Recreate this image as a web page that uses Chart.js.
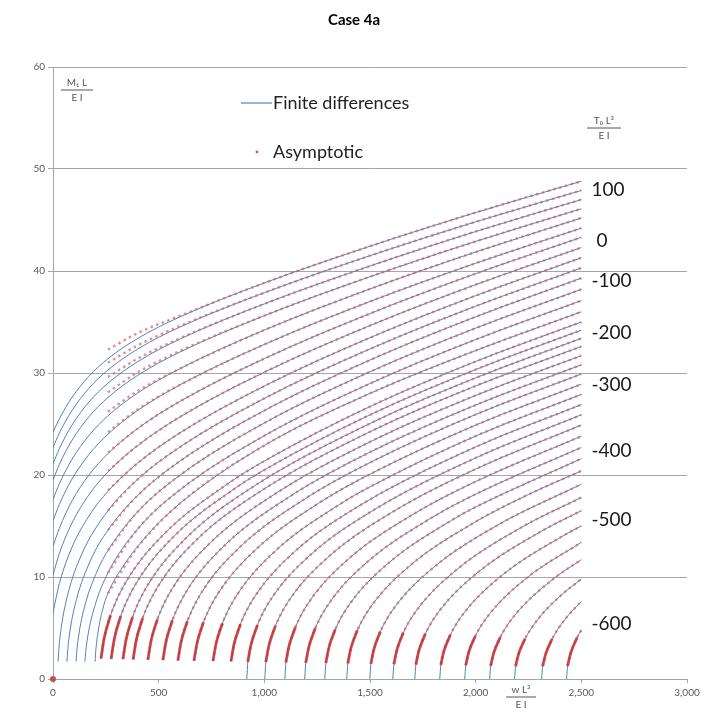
<!DOCTYPE html>
<html>
<head>
<meta charset="utf-8">
<title>Case 4a</title>
<script src="https://cdn.jsdelivr.net/npm/chart.js@4.4.1/dist/chart.umd.min.js"></script>
<style>
  html, body { margin: 0; padding: 0; background: #fff; }
  canvas { display: block; }
</style>
</head>
<body>
<canvas id="chart" width="708" height="721"></canvas>
<script>
// x ticks, y ticks
const xTicks = [0, 500, 1000, 1500, 2000, 2500, 3000];
const yTicks = [0, 10, 20, 30, 40, 50, 60];

// T0 L^2/EI labels on the right, and the y value they sit at
const tLabels = ['100', '0', '-100', '-200', '-300', '-400', '-500', '-600'];
const tLabelY = [48.0, 43.0, 39.0, 33.9, 28.8, 22.4, 15.6, 5.4];

// finite differences, upper curves (start on the M axis or near the origin)
const fdUpper = [
  [[0, 24.2], [30, 25.51], [90, 27.61], [170, 29.68], [260, 31.40], [400, 33.38], [600, 35.50], [1000, 38.83], [1500, 42.43], [2000, 45.73], [2500, 48.8]],
  [[0, 22.7], [30, 24.11], [90, 26.33], [170, 28.50], [260, 30.30], [400, 32.34], [600, 34.50], [1000, 37.87], [1500, 41.50], [2000, 44.82], [2500, 47.9]],
  [[0, 21.1], [30, 22.58], [90, 24.90], [170, 27.15], [260, 29.00], [400, 31.10], [600, 33.32], [1000, 36.78], [1500, 40.49], [2000, 43.87], [2500, 47.0]],
  [[0, 19.5], [30, 21.03], [90, 23.41], [170, 25.71], [260, 27.60], [400, 29.76], [600, 32.05], [1000, 35.62], [1500, 39.44], [2000, 42.90], [2500, 46.1]],
  [[0, 17.6], [30, 19.14], [90, 21.54], [170, 23.87], [260, 25.80], [400, 28.03], [600, 30.42], [1000, 34.21], [1500, 38.24], [2000, 41.86], [2500, 45.2]],
  [[0, 15.5], [30, 17.12], [90, 19.61], [170, 22.01], [260, 24.00], [400, 26.32], [600, 28.83], [1000, 32.80], [1500, 37.01], [2000, 40.76], [2500, 44.2]],
  [[0, 13.0], [30, 14.78], [90, 17.46], [170, 20.00], [260, 22.10], [400, 24.55], [600, 27.21], [1000, 31.41], [1500, 35.83], [2000, 39.74], [2500, 43.3]],
  [[0, 10.2], [30, 12.30], [90, 15.30], [170, 18.06], [260, 20.30], [400, 22.88], [600, 25.68], [1000, 30.08], [1500, 34.65], [2000, 38.66], [2500, 42.3]],
  [[0, 6.5], [30, 9.35], [90, 12.92], [170, 15.98], [260, 18.40], [400, 21.16], [600, 24.12], [1000, 28.72], [1500, 33.46], [2000, 37.58], [2500, 41.3]],
  [[24, 1.7], [28, 3.00], [39, 5.04], [69, 8.22], [134, 12.15], [260, 16.50], [400, 19.57], [600, 22.73], [1000, 27.51], [1500, 32.36], [2000, 36.55], [2500, 40.3]],
  [[66, 1.7], [70, 2.89], [81, 4.80], [111, 7.80], [176, 11.56], [260, 14.60], [400, 17.98], [600, 21.35], [1000, 26.32], [1500, 31.27], [2000, 35.51], [2500, 39.3]],
  [[109, 1.7], [113, 2.79], [124, 4.59], [154, 7.44], [209, 10.58], [260, 12.60], [400, 16.38], [600, 19.97], [1000, 25.10], [1500, 30.12], [2000, 34.40], [2500, 38.2]],
  [[151, 1.7], [155, 2.69], [166, 4.36], [196, 7.03], [260, 10.40], [400, 14.69], [600, 18.53], [1000, 23.85], [1500, 28.97], [2000, 33.28], [2500, 37.1]],
  [[199, 1.7], [203, 2.9], [214, 4.7], [234, 6.75], [260, 8.40], [330, 11.0], [450, 14.2], [600, 17.2], [1000, 22.9], [1500, 28.0], [2000, 32.2], [2500, 36.0]]
];

// asymptotic, upper curves: the marks start at x = 260
const asymX = [260, 400, 600, 1000, 1500, 2000, 2500];
const asymUpperY = [
  [32.3, 33.9, 35.6, 38.83, 42.43, 45.73, 48.8],
  [31.0, 32.7, 34.6, 37.87, 41.50, 44.82, 47.9],
  [29.6, 31.4, 33.4, 36.78, 40.49, 43.87, 47.0],
  [28.1, 30.05, 32.15, 35.62, 39.44, 42.90, 46.1],
  [26.2, 28.23, 30.42, 34.21, 38.24, 41.86, 45.2],
  [24.2, 26.42, 28.83, 32.80, 37.01, 40.76, 44.2],
  [22.2, 24.55, 27.21, 31.41, 35.83, 39.74, 43.3],
  [20.4, 22.88, 25.68, 30.08, 34.65, 38.66, 42.3],
  [18.5, 21.16, 24.12, 28.72, 33.46, 37.58, 41.3],
  [16.5, 19.57, 22.73, 27.51, 32.36, 36.55, 40.3],
  [14.6, 17.98, 21.35, 26.32, 31.27, 35.51, 39.3],
  [12.6, 16.38, 19.97, 25.10, 30.12, 34.40, 38.2],
  [10.4, 14.69, 18.53, 23.85, 28.97, 33.28, 37.1],
  [8.4, 12.9, 17.2, 22.9, 28.0, 32.2, 36.0]
];

// lower curves that rise from the w axis (both methods follow them)
const lowerCurves = [
  [[227, 2.01], [242, 3.99], [272, 6.23], [342, 9.40], [522, 14.14], [822, 19.07], [1000, 21.37], [1500, 26.71], [2000, 31.13], [2500, 35.0]],
  [[275, 1.98], [290, 3.93], [320, 6.14], [390, 9.26], [570, 13.94], [870, 18.81], [1000, 20.50], [1500, 25.90], [2000, 30.34], [2500, 34.2]],
  [[331, 1.95], [346, 3.87], [376, 6.05], [446, 9.13], [626, 13.75], [926, 18.57], [1500, 25.05], [2000, 29.52], [2500, 33.4]],
  [[379, 1.92], [394, 3.81], [424, 5.95], [494, 8.98], [674, 13.54], [974, 18.30], [1500, 24.24], [2000, 28.73], [2500, 32.6]],
  [[449, 1.89], [464, 3.75], [494, 5.85], [564, 8.85], [744, 13.35], [1044, 18.06], [1500, 23.25], [2000, 27.80], [2500, 31.7]],
  [[520, 1.85], [535, 3.69], [565, 5.76], [635, 8.71], [815, 13.16], [1115, 17.82], [1500, 22.24], [2000, 26.86], [2500, 30.8]],
  [[591, 1.82], [606, 3.63], [636, 5.67], [706, 8.58], [886, 12.97], [1186, 17.58], [1500, 21.22], [2000, 25.93], [2500, 29.9]],
  [[667, 1.79], [682, 3.56], [712, 5.57], [782, 8.42], [962, 12.74], [1262, 17.30], [1500, 20.08], [2000, 24.89], [2500, 28.9]],
  [[757, 1.76], [772, 3.50], [802, 5.47], [872, 8.29], [1052, 12.56], [1352, 17.07], [1500, 18.84], [2000, 23.82], [2500, 27.9]],
  [[842, 1.73], [857, 3.44], [887, 5.38], [957, 8.15], [1137, 12.37], [1437, 16.83], [2000, 22.75], [2500, 26.9]],
  [[917, 0], [922, 1.69], [937, 3.37], [967, 5.27], [1037, 8.00], [1217, 12.15], [1517, 16.56], [2000, 21.68], [2500, 25.9]],
  [[1002, 0], [1007, 1.66], [1022, 3.31], [1052, 5.18], [1122, 7.86], [1302, 11.95], [1602, 16.32], [2000, 20.58], [2500, 24.9]],
  [[1097, 0], [1102, 1.63], [1117, 3.24], [1147, 5.08], [1217, 7.71], [1397, 11.75], [1697, 16.06], [2000, 19.36], [2500, 23.8]],
  [[1191, 0], [1196, 1.59], [1211, 3.17], [1241, 4.97], [1311, 7.56], [1491, 11.54], [1791, 15.80], [2000, 18.12], [2500, 22.7]],
  [[1286, 0], [1291, 1.56], [1306, 3.11], [1336, 4.87], [1406, 7.41], [1586, 11.34], [1886, 15.56], [2000, 16.86], [2500, 21.6]],
  [[1390, 0], [1395, 1.53], [1410, 3.04], [1440, 4.77], [1510, 7.26], [1690, 11.13], [1990, 15.30], [2250, 18.09], [2500, 20.4]],
  [[1499, 0], [1504, 1.49], [1519, 2.96], [1549, 4.65], [1619, 7.10], [1799, 10.91], [2099, 15.03], [2500, 19.1]],
  [[1608, 0], [1613, 1.45], [1628, 2.90], [1658, 4.55], [1728, 6.94], [1908, 10.69], [2208, 14.77], [2500, 17.8]],
  [[1712, 0], [1717, 1.41], [1732, 2.82], [1762, 4.43], [1832, 6.78], [2012, 10.48], [2312, 14.50], [2500, 16.5]],
  [[1830, 0], [1835, 1.38], [1850, 2.75], [1880, 4.32], [1950, 6.62], [2130, 10.25], [2430, 14.23], [2500, 15.0]],
  [[1948, 0], [1953, 1.34], [1968, 2.67], [1998, 4.20], [2068, 6.44], [2248, 10.01], [2500, 13.4]],
  [[2066, 0], [2071, 1.30], [2086, 2.59], [2116, 4.08], [2186, 6.28], [2366, 9.79], [2500, 11.7]],
  [[2184, 0], [2189, 1.26], [2204, 2.51], [2234, 3.96], [2304, 6.10], [2404, 8.21], [2500, 9.8]],
  [[2312, 0], [2317, 1.25], [2332, 2.49], [2362, 3.94], [2432, 6.09], [2500, 7.6]],
  [[2430, 0], [2435, 1.28], [2450, 2.57], [2480, 4.06], [2500, 4.8]]
];

const BLUE = '#4f81bd';
const RED = 'rgba(226, 96, 96, 0.72)';
const RED_DARK = 'rgba(196, 52, 52, 0.85)';
const FONT = 'Lato, "Open Sans", sans-serif';

const toPts = arr => arr.map(p => ({ x: p[0], y: p[1] }));
const datasets = [];

// finite differences (blue lines)
fdUpper.concat(lowerCurves).forEach(c => {
  datasets.push({ data: toPts(c), borderColor: BLUE, borderWidth: 1, order: 3 });
});

// asymptotic (red marks)
asymUpperY.forEach(ys => {
  datasets.push({
    data: asymX.map((x, j) => ({ x: x, y: ys[j] })),
    borderColor: RED, borderWidth: 2.4, borderDash: [2.5, 3.5], order: 2
  });
});
lowerCurves.forEach(c => {
  const pts = c.filter(p => p[1] > 0);
  datasets.push({
    data: toPts(pts),
    borderColor: RED, borderWidth: 2.4, borderDash: [2.5, 3.5], order: 2
  });
  // dense run of marks near the axis
  datasets.push({
    data: toPts(pts.slice(0, 3)),
    borderColor: RED_DARK, borderWidth: 2.8, order: 1
  });
});

// the single point at the origin
datasets.push({
  data: [{ x: 0, y: 0 }], showLine: false, pointRadius: 3,
  backgroundColor: '#c0504d', borderWidth: 0, clip: 6, order: 0
});

function fraction(ctx, num, den, cx, cy, w) {
  ctx.textAlign = 'center';
  ctx.textBaseline = 'middle';
  ctx.fillText(num, cx, cy - 7);
  ctx.fillText(den, cx, cy + 8);
  ctx.beginPath();
  ctx.moveTo(cx - w / 2, cy);
  ctx.lineTo(cx + w / 2, cy);
  ctx.stroke();
}

const overlay = {
  id: 'overlay',
  afterDraw(chart) {
    const { ctx, scales: { x, y } } = chart;
    ctx.save();

    ctx.fillStyle = '#000';
    ctx.font = 'bold 15px ' + FONT;
    ctx.textAlign = 'center';
    ctx.textBaseline = 'middle';
    ctx.fillText('Case 4a', 354, 20);

    // legend
    ctx.strokeStyle = BLUE;
    ctx.lineWidth = 1.2;
    ctx.beginPath();
    ctx.moveTo(241, 103);
    ctx.lineTo(272, 103);
    ctx.stroke();
    ctx.fillStyle = '#d06060';
    ctx.beginPath();
    ctx.arc(257, 152, 1.4, 0, Math.PI * 2);
    ctx.fill();
    ctx.fillStyle = '#222';
    ctx.font = '18px ' + FONT;
    ctx.textAlign = 'left';
    ctx.fillText('Finite differences', 273, 103);
    ctx.fillText('Asymptotic', 273, 152);

    // T0 labels
    ctx.font = '19px ' + FONT;
    ctx.fillStyle = '#1a1a1a';
    tLabels.forEach((t, i) => {
      ctx.fillText(t, x.getPixelForValue(2548) + (t === '0' ? 5 : 0), y.getPixelForValue(tLabelY[i]));
    });

    // axis fractions
    ctx.fillStyle = '#555';
    ctx.strokeStyle = '#555';
    ctx.lineWidth = 1;
    ctx.font = '10px ' + FONT;
    fraction(ctx, 'M\u2081 L', 'E I', 77, 90, 32);
    fraction(ctx, 'T\u2080 L\u00b2', 'E I', 604, 128, 34);
    fraction(ctx, 'w L\u00b3', 'E I', 521, 697, 30);

    ctx.restore();
  }
};

new Chart(document.getElementById('chart'), {
  type: 'scatter',
  data: { datasets: datasets },
  options: {
    responsive: false,
    animation: false,
    devicePixelRatio: 1,
    layout: { padding: { top: 67, right: 21, left: 0, bottom: 0 } },
    elements: {
      point: { radius: 0, hoverRadius: 0 },
      line: { cubicInterpolationMode: 'monotone', fill: false }
    },
    datasets: { scatter: { showLine: true } },
    plugins: { legend: { display: false }, tooltip: { enabled: false } },
    scales: {
      x: {
        type: 'linear', min: 0, max: 3000,
        afterFit: s => { s.height = 42; },
        afterBuildTicks: s => { s.ticks = xTicks.map(v => ({ value: v })); },
        ticks: {
          color: '#595959', font: { family: FONT, size: 10 }, padding: 4,
          callback: v => v.toLocaleString('en-US')
        },
        grid: { drawOnChartArea: false, color: '#a6a6a6', tickLength: 4 },
        border: { color: '#a6a6a6' }
      },
      y: {
        type: 'linear', min: 0, max: 60,
        afterFit: s => { s.width = 53; },
        afterBuildTicks: s => { s.ticks = yTicks.map(v => ({ value: v })); },
        ticks: { color: '#595959', font: { family: FONT, size: 10 }, padding: 3 },
        grid: { color: '#a6a6a6', tickLength: 5 },
        border: { color: '#a6a6a6' }
      }
    }
  },
  plugins: [overlay]
});
</script>
</body>
</html>
